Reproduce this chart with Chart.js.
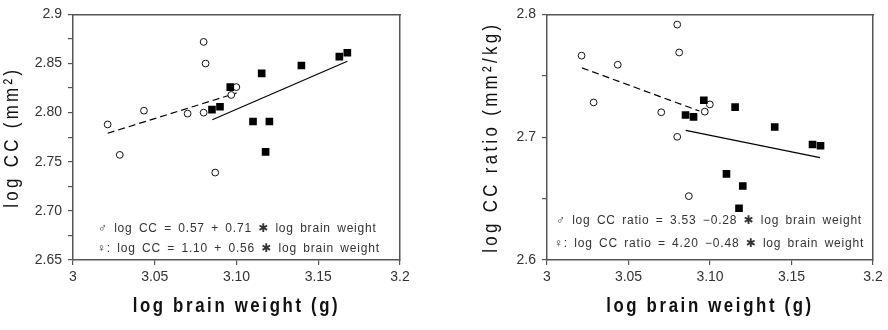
<!DOCTYPE html>
<html>
<head>
<meta charset="utf-8">
<script src="https://cdn.jsdelivr.net/npm/chart.js@4.4.1/dist/chart.umd.min.js"></script>
<style>
  html, body { margin: 0; padding: 0; background: #fff; }
  #wrap { position: relative; width: 888px; height: 330px; }
  canvas { position: absolute; top: 0; }
  #c1 { left: 0; }
  #c2 { left: 444px; }
</style>
</head>
<body>
<div id="wrap">
  <canvas id="c1" width="444" height="330"></canvas>
  <canvas id="c2" width="444" height="330"></canvas>
</div>
<script>
// ---------- DATA ----------
const femaleBrain = [3.0212, 3.0286, 3.0434, 3.0701, 3.0799, 3.0811, 3.0799, 3.0968, 3.0999, 3.0870];
const femaleCC    = [2.788, 2.757, 2.802, 2.799, 2.872, 2.850, 2.800, 2.818, 2.826, 2.739];
const femaleRatio = [2.7664, 2.7283, 2.7590, 2.7203, 2.7917, 2.7690, 2.7003, 2.7208, 2.7267, 2.6520];

const maleBrain = [3.0850, 3.0899, 3.0962, 3.1154, 3.1101, 3.1201, 3.1178, 3.1397, 3.1629, 3.1678];
const maleCC    = [2.803, 2.806, 2.826, 2.840, 2.791, 2.791, 2.760, 2.848, 2.857, 2.861];
const maleRatio = [2.7181, 2.7165, 2.7301, 2.7245, 2.6701, 2.6603, 2.6421, 2.7083, 2.6941, 2.6930];

// regression line end points
const ccFemaleLineX = [3.0212, 3.1001];
const ccFemaleLineY = [2.779, 2.820];
const ccMaleLineX   = [3.0852, 3.1678];
const ccMaleLineY   = [2.7927, 2.8523];
const ratioFemaleLineX = [3.0214, 3.0935];
const ratioFemaleLineY = [2.7565, 2.7213];
const ratioMaleLineX   = [3.0851, 3.1675];
const ratioMaleLineY   = [2.7056, 2.6834];

// ticks
const xTickValues = [3, 3.05, 3.10, 3.15, 3.2];
const xTickLabels = ['3', '3.05', '3.10', '3.15', '3.2'];
const ccTickValues = [2.65, 2.675, 2.70, 2.725, 2.75, 2.775, 2.80, 2.825, 2.85, 2.875, 2.9];
const ccMajorValues = [2.65, 2.70, 2.75, 2.80, 2.85, 2.9];
const ccTickLabels  = ['2.65', '2.70', '2.75', '2.80', '2.85', '2.9'];
const ratioTickValues = [2.6, 2.65, 2.7, 2.75, 2.8];
const ratioMajorValues = [2.6, 2.7, 2.8];
const ratioTickLabels  = ['2.6', '2.7', '2.8'];

const ccEquations = ['\u2642 log CC = 0.57 + 0.71 \u2731 log brain weight',
                     '\u2640: log CC = 1.10 + 0.56 \u2731 log brain weight'];
const ratioEquations = ['\u2642 log CC ratio = 3.53 \u22120.28 \u2731 log brain weight',
                        '\u2640: log CC ratio = 4.20 \u22120.48 \u2731 log brain weight'];

// ---------- STYLE ----------
const AXIS = '#555';
const TEXT = '#333';
const TICK_FONT = { family: '"Liberation Sans", Arial, sans-serif', size: 14 };
const TITLE_FAMILY = '"Liberation Sans", Arial, sans-serif';
const TITLE_SQUEEZE = 0.8;
const TITLE_SPACING = { x: 3.3, y: 4.2 };

class SpacedScale extends Chart.LinearScale {
  drawTitle() {
    const ctx = this.ctx;
    ctx.save();
    const k = TITLE_SQUEEZE;
    if (this.isHorizontal()) {
      const cx = (this.left + this.right) / 2;
      ctx.translate(cx, 0); ctx.scale(k, 1); ctx.translate(-cx, 0);
    } else {
      const cy = (this.top + this.bottom) / 2;
      ctx.translate(0, cy); ctx.scale(1, k); ctx.translate(0, -cy);
    }
    ctx.letterSpacing = (TITLE_SPACING[this.axis] || 0) + 'px';
    super.drawTitle();
    ctx.restore();
  }
}
SpacedScale.id = 'spacedLinear';
SpacedScale.defaults = Chart.LinearScale.defaults;
Chart.register(SpacedScale);

const eqPlugin = {
  id: 'eqText',
  afterDatasetsDraw(chart, args, opts) {
    const { ctx, chartArea } = chart;
    ctx.save();
    ctx.font = '12px "Liberation Sans", Arial, "DejaVu Sans", sans-serif';
    ctx.fillStyle = TEXT;
    ctx.letterSpacing = '0.8px';
    ctx.wordSpacing = '2.2px';
    ctx.textBaseline = 'middle';
    ctx.textAlign = 'left';
    opts.lines.forEach((t, i) => {
      const p = opts.pos[i];
      ctx.fillText(t, chartArea.left + p[0], chartArea.bottom - p[1]);
    });
    ctx.restore();
  }
};

function pts(xs, ys) { return xs.map((x, i) => ({ x, y: ys[i] })); }

function labelFor(values, labels) {
  return (v) => {
    const i = values.findIndex(m => Math.abs(m - v) < 1e-6);
    return i >= 0 ? labels[i] : '';
  };
}

function makeChart(id, cfg) {
  return new Chart(document.getElementById(id), {
    type: 'scatter',
    data: {
      datasets: [
        { label: 'male', data: pts(maleBrain, cfg.maleY), pointStyle: 'rect', pointRadius: 5.4,
          backgroundColor: '#000', borderColor: '#000', borderWidth: 0, showLine: false },
        { label: 'female', data: pts(femaleBrain, cfg.femaleY), pointStyle: 'circle', pointRadius: 3.4,
          backgroundColor: '#fff', borderColor: '#111', borderWidth: 1, showLine: false },
        { label: 'male fit', data: pts(cfg.mLineX, cfg.mLineY), showLine: true, pointRadius: 0,
          borderColor: '#000', borderWidth: 1.2, fill: false },
        { label: 'female fit', data: pts(cfg.fLineX, cfg.fLineY), showLine: true, pointRadius: 0,
          borderColor: '#000', borderWidth: 1.2, borderDash: [7, 4], fill: false }
      ]
    },
    options: {
      responsive: false,
      animation: false,
      events: [],
      layout: { padding: { top: 10, right: cfg.padRight, bottom: 0, left: 0 } },
      plugins: {
        legend: { display: false },
        tooltip: { enabled: false },
        eqText: { lines: cfg.eqs, pos: cfg.eqPos }
      },
      scales: {
        x: {
          type: 'spacedLinear', position: 'bottom', min: 3, max: 3.2,
          afterBuildTicks: s => { s.ticks = xTickValues.map(v => ({ value: v })); },
          afterFit: s => { s.height = 70; },
          ticks: { callback: labelFor(xTickValues, xTickLabels), font: TICK_FONT, color: TEXT,
                   padding: 4, maxRotation: 0, autoSkip: false },
          grid: { drawOnChartArea: false, drawTicks: true, tickLength: 5, color: AXIS, lineWidth: 1.2 },
          border: { display: true, color: AXIS, width: 1.5 },
          title: { display: true, text: 'log brain weight (g)', color: '#111',
                   font: { family: TITLE_FAMILY, size: 21, weight: 'bold' },
                   padding: { top: 0, bottom: 11 } }
        },
        y: {
          type: 'spacedLinear', position: 'left', min: cfg.yMin, max: cfg.yMax,
          afterBuildTicks: s => { s.ticks = cfg.yTicks.map(v => ({ value: v })); },
          afterFit: s => { s.width = cfg.yWidth; },
          ticks: { callback: labelFor(cfg.yMajor, cfg.yLabels), font: TICK_FONT, color: TEXT,
                   padding: 6, autoSkip: false },
          grid: { drawOnChartArea: false, drawTicks: true, tickLength: 5, color: AXIS, lineWidth: 1.2 },
          border: { display: true, color: AXIS, width: 1.5 },
          title: { display: true, text: cfg.yTitle, color: '#111',
                   font: { family: TITLE_FAMILY, size: 21, weight: 'normal' },
                   padding: { top: cfg.yTitlePad, bottom: 0 } }
        },
        x2: {
          type: 'linear', position: 'top', min: 3, max: 3.2,
          afterFit: s => { s.height = 0; },
          ticks: { display: false }, grid: { display: false },
          border: { display: true, color: AXIS, width: 1.5 }
        },
        y2: {
          type: 'linear', position: 'right', min: cfg.yMin, max: cfg.yMax,
          afterFit: s => { s.width = 0; },
          ticks: { display: false }, grid: { display: false },
          border: { display: true, color: AXIS, width: 1.5 }
        }
      }
    },
    plugins: [eqPlugin]
  });
}

makeChart('c1', {
  maleY: maleCC, femaleY: femaleCC,
  mLineX: ccMaleLineX, mLineY: ccMaleLineY, fLineX: ccFemaleLineX, fLineY: ccFemaleLineY,
  yMin: 2.65, yMax: 2.9, yTicks: ccTickValues, yMajor: ccMajorValues, yLabels: ccTickLabels,
  yTitle: 'log CC (mm\u00B2)', yWidth: 73, yTitlePad: 0, padRight: 44,
  eqs: ccEquations, eqPos: [[25, 31], [24, 11]]
});

makeChart('c2', {
  maleY: maleRatio, femaleY: femaleRatio,
  mLineX: ratioMaleLineX, mLineY: ratioMaleLineY, fLineX: ratioFemaleLineX, fLineY: ratioFemaleLineY,
  yMin: 2.6, yMax: 2.8, yTicks: ratioTickValues, yMajor: ratioMajorValues, yLabels: ratioTickLabels,
  yTitle: 'log CC ratio (mm\u00B2/kg)', yWidth: 103, yTitlePad: 35, padRight: 15,
  eqs: ratioEquations, eqPos: [[9, 39], [7, 16]]
});
</script>
</body>
</html>
